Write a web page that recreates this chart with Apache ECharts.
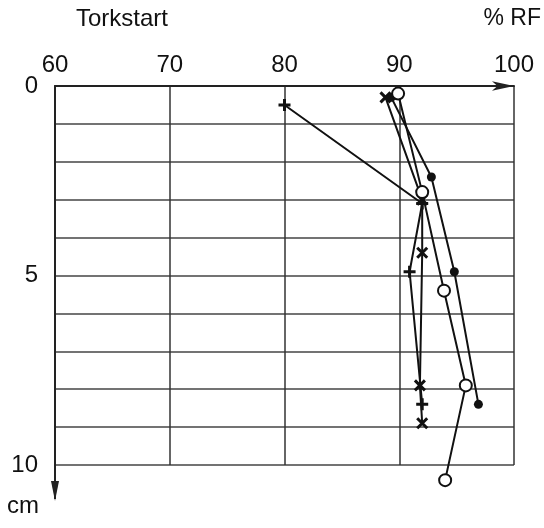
<!DOCTYPE html>
<html>
<head>
<meta charset="utf-8">
<script src="https://cdn.jsdelivr.net/npm/echarts@6/dist/echarts.min.js"></script>
<style>
html,body{margin:0;padding:0;background:#fff;}
#c{width:544px;height:528px;}
</style>
</head>
<body>
<div id="c"></div>
<script>
// Values: relative humidity (% RF) vs depth (cm)
const xTicks = [60, 70, 80, 90, 100];
const depthLabels = [0, 5, 10];

const plusRF    = [80.0, 92.0, 90.9, 92.0];
const plusDepth = [0.5, 3.1, 4.9, 8.4];

const crossRF    = [88.8, 92.0, 92.0, 91.8, 92.0];
const crossDepth = [0.3, 3.0, 4.4, 7.9, 8.9];

const circleRF    = [89.9, 92.0, 93.9, 95.8, 94.0];
const circleDepth = [0.2, 2.8, 5.4, 7.9, 10.4];

const dotRF    = [89.3, 92.8, 94.8, 96.9];
const dotDepth = [0.3, 2.4, 4.9, 8.4];

const zip = (a, b) => a.map((v, i) => [v, b[i]]);

const chart = echarts.init(document.getElementById('c'));
const font = '"Liberation Sans", Arial, sans-serif';
const ink = '#111';
const plusPath = 'path://M0,5L10,5M5,0L5,10';
const crossPath = 'path://M0,0L10,10M10,0L0,10';

function lineSeries(name, data, symbol, size, extra) {
  return Object.assign({
    name, type: 'line', data, symbol, symbolSize: size, clip: false,
    lineStyle: {color: ink, width: 2},
    itemStyle: {color: ink, borderColor: ink, borderWidth: 3},
    z: 5, animation: false
  }, extra || {});
}

const textEls = [
  {type: 'text', left: 76, top: 7, style: {text: 'Torkstart', fontSize: 24, fontFamily: font, fill: ink}},
  {type: 'text', right: 3, top: 7, style: {text: '% RF', fontSize: 23, fontFamily: font, fill: ink}},
  {type: 'text', left: 7, top: 494, style: {text: 'cm', fontSize: 24, fontFamily: font, fill: ink}}
];

chart.setOption({
  animation: false,
  grid: {left: 55, right: 30, top: 86, bottom: 63},
  xAxis: {
    type: 'value', position: 'top', min: 60, max: 100, interval: 10,
    axisLine: {show: true, lineStyle: {color: '#222', width: 2}, symbol: ['none', 'arrow'], symbolSize: [7, 22]},
    axisTick: {show: false},
    axisLabel: {color: ink, fontSize: 24, fontFamily: font, margin: 9,
      formatter: v => xTicks.includes(v) ? String(v) : ''},
    splitLine: {show: true, lineStyle: {color: '#333', width: 1.5}}
  },
  yAxis: {
    type: 'value', inverse: true, min: 0, max: 10, interval: 1,
    axisLine: {show: true, lineStyle: {color: '#222', width: 2}},
    axisTick: {show: false},
    axisLabel: {color: ink, fontSize: 24, fontFamily: font, margin: 17,
      formatter: v => depthLabels.includes(v) ? String(v) : ''},
    splitLine: {show: true, lineStyle: {color: '#444', width: 1.5}}
  },
  series: [
    lineSeries('plus', zip(plusRF, plusDepth), plusPath, 12),
    lineSeries('cross', zip(crossRF, crossDepth), crossPath, 10),
    lineSeries('dot', zip(dotRF, dotDepth), 'circle', 9, {itemStyle: {color: ink}}),
    lineSeries('circle', zip(circleRF, circleDepth), 'emptyCircle', 12, {itemStyle: {color: ink, borderColor: ink, borderWidth: 2.5}, z: 6})
  ],
  graphic: textEls
});

// extend the depth axis below the grid with a downward arrow
const p0 = chart.convertToPixel({xAxisIndex: 0, yAxisIndex: 0}, [60, 10]);
chart.setOption({
  graphic: textEls.concat([
    {type: 'line', shape: {x1: p0[0], y1: p0[1], x2: p0[0], y2: p0[1] + 34}, style: {stroke: '#222', lineWidth: 2}},
    {type: 'polygon', shape: {points: [[p0[0] - 4, p0[1] + 16], [p0[0] + 4, p0[1] + 16], [p0[0], p0[1] + 36]]}, style: {fill: '#222'}}
  ])
}, {replaceMerge: ['graphic']});
</script>
</body>
</html>
